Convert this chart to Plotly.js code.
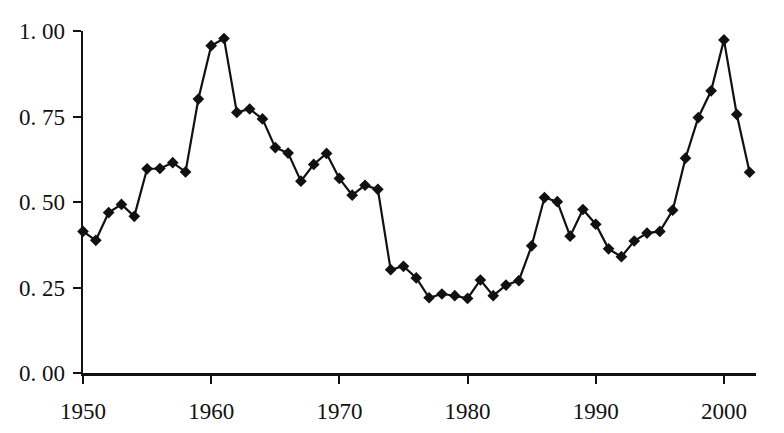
<!DOCTYPE html>
<html>
<head>
<meta charset="utf-8">
<script src="https://cdn.plot.ly/plotly-3.0.1.min.js"></script>
<style>
  html, body { margin: 0; padding: 0; background: #ffffff; }
  #chart { width: 784px; height: 433px; }
</style>
</head>
<body>
<div id="chart"></div>
<script>
// Years (x) and index values (y)
const years = [
  1950, 1951, 1952, 1953, 1954, 1955, 1956, 1957, 1958, 1959,
  1960, 1961, 1962, 1963, 1964, 1965, 1966, 1967, 1968, 1969,
  1970, 1971, 1972, 1973, 1974, 1975, 1976, 1977, 1978, 1979,
  1980, 1981, 1982, 1983, 1984, 1985, 1986, 1987, 1988, 1989,
  1990, 1991, 1992, 1993, 1994, 1995, 1996, 1997, 1998, 1999,
  2000, 2001, 2002
];
const values = [
  0.414, 0.388, 0.469, 0.493, 0.458, 0.597, 0.598, 0.615, 0.588, 0.801,
  0.957, 0.978, 0.762, 0.772, 0.743, 0.659, 0.643, 0.561, 0.610, 0.642,
  0.569, 0.520, 0.549, 0.537, 0.302, 0.312, 0.278, 0.220, 0.231, 0.226,
  0.218, 0.272, 0.226, 0.257, 0.270, 0.372, 0.513, 0.501, 0.400, 0.478,
  0.435, 0.363, 0.340, 0.386, 0.409, 0.414, 0.476, 0.628, 0.747, 0.825,
  0.974, 0.756, 0.587
];
const xTickVals = [1950, 1960, 1970, 1980, 1990, 2000];
const xTickText = ["1950", "1960", "1970", "1980", "1990", "2000"];
const yTickVals = [0, 0.25, 0.5, 0.75, 1.0];
const yTickText = ["0. 00", "0. 25", "0. 50", "0. 75", "1. 00"];

const labelFont = { family: "Liberation Serif, Times New Roman, serif", size: 23, color: "#111111" };

const trace = {
  x: years,
  y: values,
  type: "scatter",
  mode: "lines+markers",
  line: { color: "#111111", width: 2.2 },
  marker: { symbol: "diamond", size: 9, color: "#111111" },
  cliponaxis: false,
  hoverinfo: "x+y"
};

const layout = {
  width: 784,
  height: 433,
  margin: { l: 83, r: 28, t: 31, b: 60 },
  paper_bgcolor: "#ffffff",
  plot_bgcolor: "#ffffff",
  showlegend: false,
  font: labelFont,
  xaxis: {
    range: [1950, 2002.5],
    tickmode: "array",
    tickvals: xTickVals,
    ticktext: xTickText,
    ticks: "outside",
    ticklen: 8,
    tickwidth: 2,
    tickcolor: "#111111",
    ticklabelstandoff: 8,
    showline: true,
    linecolor: "#111111",
    linewidth: 2.5,
    showgrid: false,
    zeroline: false,
    tickfont: labelFont
  },
  yaxis: {
    range: [0, 1],
    tickmode: "array",
    tickvals: yTickVals,
    ticktext: yTickText,
    ticks: "outside",
    ticklen: 8,
    tickwidth: 2,
    tickcolor: "#111111",
    ticklabelstandoff: 3,
    showline: true,
    linecolor: "#111111",
    linewidth: 2.5,
    showgrid: false,
    zeroline: false,
    tickfont: labelFont
  }
};

Plotly.newPlot("chart", [trace], layout, { displayModeBar: false, staticPlot: true });
</script>
</body>
</html>
